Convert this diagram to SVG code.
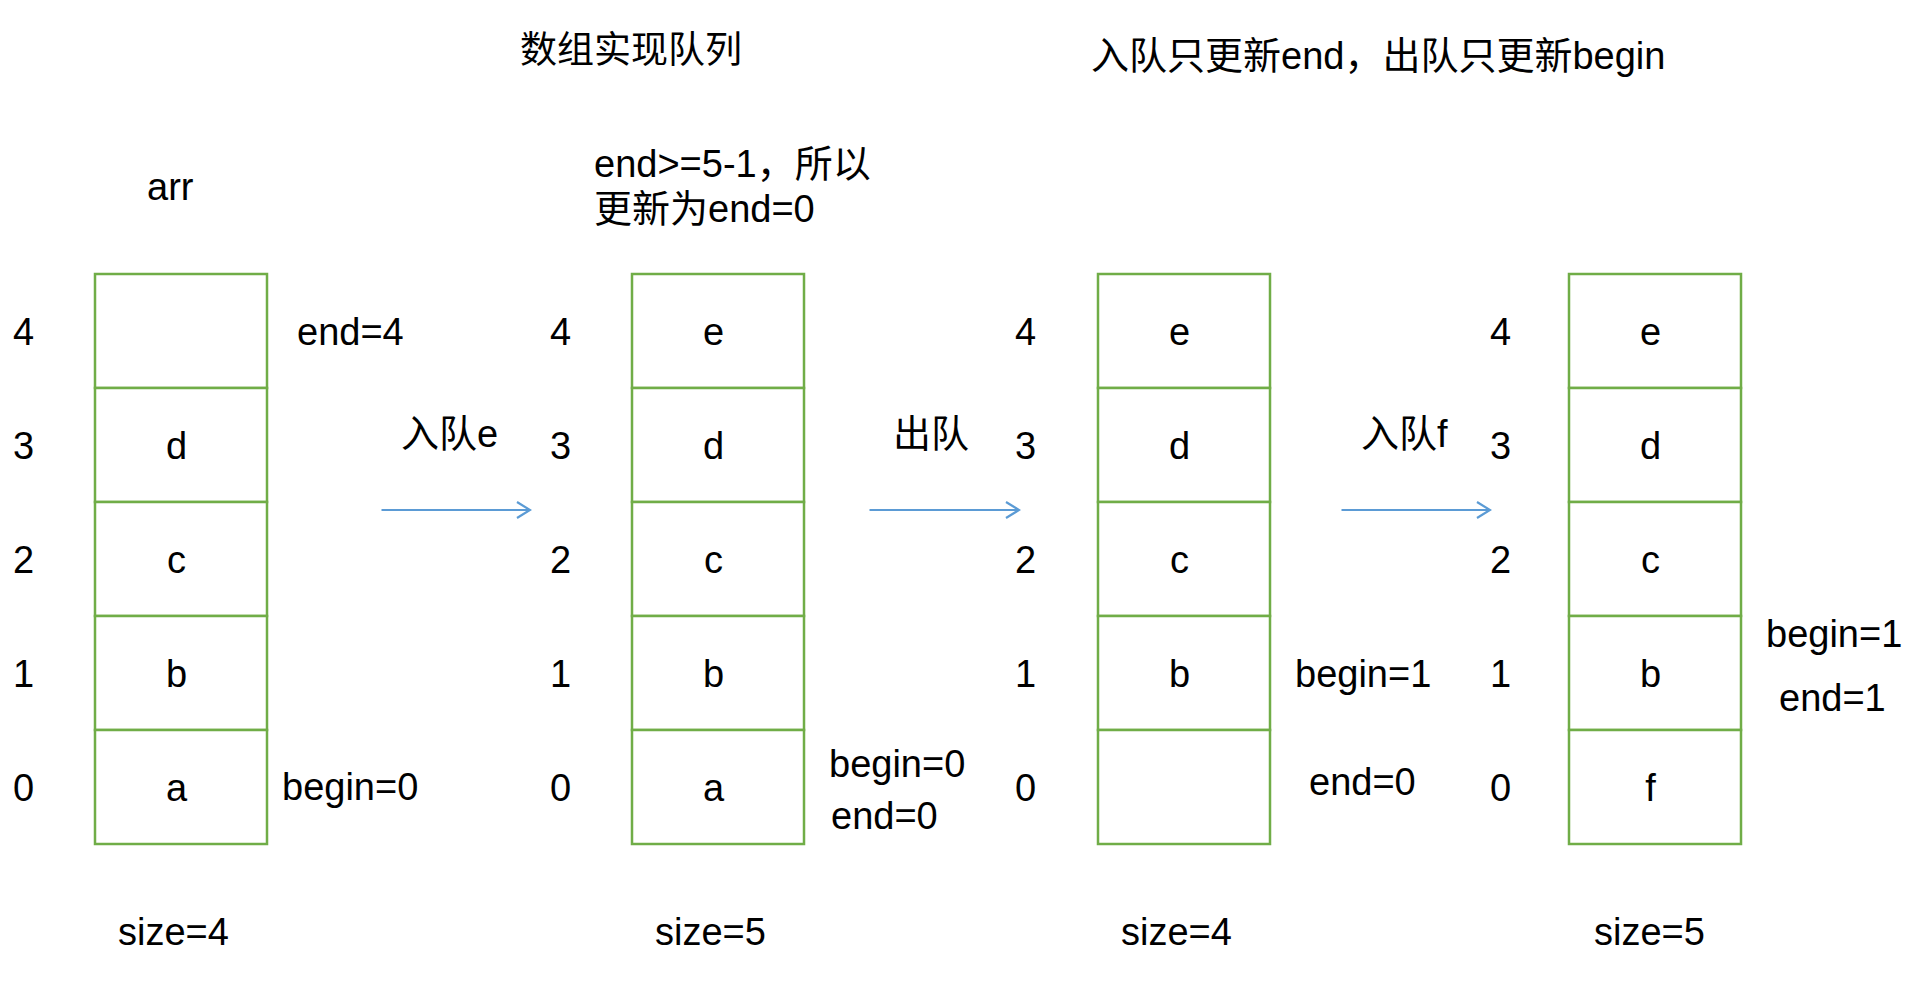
<svg xmlns="http://www.w3.org/2000/svg" width="1918" height="986" viewBox="0 0 1918 986">
<style>
text{font-family:"Liberation Sans","Noto Sans CJK SC",sans-serif;font-size:38px;fill:#000}
.cell{fill:#fff;stroke:#70AD47;stroke-width:2.5}
.v{text-anchor:middle}
.conn{stroke:#5B9BD5;stroke-width:2.2;fill:none}
</style>
<defs>
<marker id="arr" viewBox="0 0 16 18" refX="14" refY="9" markerWidth="16" markerHeight="18" markerUnits="userSpaceOnUse" orient="auto">
<path d="M1,1 L14,9 L1,17" fill="none" stroke="#5B9BD5" stroke-width="2.2"/>
</marker>
</defs>
<rect width="1918" height="986" fill="#fff"/>
<text x="520" y="63" style="font-size:37px">数组实现队列</text>
<text x="1091" y="69">入队只更新end，出队只更新begin</text>
<text x="147" y="200">arr</text>
<text x="594" y="177">end&gt;=5-1，所以</text>
<text x="594" y="222">更新为end=0</text>

<g id="col1">
<rect class="cell" x="95" y="274" width="172" height="114"/>
<rect class="cell" x="95" y="388" width="172" height="114"/>
<rect class="cell" x="95" y="502" width="172" height="114"/>
<rect class="cell" x="95" y="616" width="172" height="114"/>
<rect class="cell" x="95" y="730" width="172" height="114"/>
<text class="v" x="176.5" y="459">d</text>
<text class="v" x="176.5" y="573">c</text>
<text class="v" x="176.5" y="687">b</text>
<text class="v" x="176.5" y="801">a</text>
<text x="13" y="345">4</text><text x="13" y="459">3</text><text x="13" y="573">2</text><text x="13" y="687">1</text><text x="13" y="801">0</text>
<text x="297" y="345">end=4</text>
<text x="282" y="800">begin=0</text>
<text x="118" y="945">size=4</text>
</g>

<g id="col2">
<rect class="cell" x="632" y="274" width="172" height="114"/>
<rect class="cell" x="632" y="388" width="172" height="114"/>
<rect class="cell" x="632" y="502" width="172" height="114"/>
<rect class="cell" x="632" y="616" width="172" height="114"/>
<rect class="cell" x="632" y="730" width="172" height="114"/>
<text class="v" x="713.5" y="345">e</text>
<text class="v" x="713.5" y="459">d</text>
<text class="v" x="713.5" y="573">c</text>
<text class="v" x="713.5" y="687">b</text>
<text class="v" x="713.5" y="801">a</text>
<text x="550" y="345">4</text><text x="550" y="459">3</text><text x="550" y="573">2</text><text x="550" y="687">1</text><text x="550" y="801">0</text>
<text x="829" y="777">begin=0</text>
<text x="831" y="829">end=0</text>
<text x="655" y="945">size=5</text>
</g>

<g id="col3">
<rect class="cell" x="1098" y="274" width="172" height="114"/>
<rect class="cell" x="1098" y="388" width="172" height="114"/>
<rect class="cell" x="1098" y="502" width="172" height="114"/>
<rect class="cell" x="1098" y="616" width="172" height="114"/>
<rect class="cell" x="1098" y="730" width="172" height="114"/>
<text class="v" x="1179.5" y="345">e</text>
<text class="v" x="1179.5" y="459">d</text>
<text class="v" x="1179.5" y="573">c</text>
<text class="v" x="1179.5" y="687">b</text>
<text x="1015" y="345">4</text><text x="1015" y="459">3</text><text x="1015" y="573">2</text><text x="1015" y="687">1</text><text x="1015" y="801">0</text>
<text x="1295" y="687">begin=1</text>
<text x="1309" y="795">end=0</text>
<text x="1121" y="945">size=4</text>
</g>

<g id="col4">
<rect class="cell" x="1569" y="274" width="172" height="114"/>
<rect class="cell" x="1569" y="388" width="172" height="114"/>
<rect class="cell" x="1569" y="502" width="172" height="114"/>
<rect class="cell" x="1569" y="616" width="172" height="114"/>
<rect class="cell" x="1569" y="730" width="172" height="114"/>
<text class="v" x="1650.5" y="345">e</text>
<text class="v" x="1650.5" y="459">d</text>
<text class="v" x="1650.5" y="573">c</text>
<text class="v" x="1650.5" y="687">b</text>
<text class="v" x="1650.5" y="801">f</text>
<text x="1490" y="345">4</text><text x="1490" y="459">3</text><text x="1490" y="573">2</text><text x="1490" y="687">1</text><text x="1490" y="801">0</text>
<text x="1766" y="647">begin=1</text>
<text x="1779" y="711">end=1</text>
<text x="1594" y="945">size=5</text>
</g>

<g id="connectors">
<line class="conn" x1="381.5" y1="510" x2="530" y2="510" marker-end="url(#arr)"/>
<text x="401" y="447">入队e</text>
<line class="conn" x1="869.5" y1="510" x2="1019" y2="510" marker-end="url(#arr)"/>
<text x="893" y="447">出队</text>
<line class="conn" x1="1341.5" y1="510" x2="1490" y2="510" marker-end="url(#arr)"/>
<text x="1361" y="447">入队f</text>
</g>
</svg>
